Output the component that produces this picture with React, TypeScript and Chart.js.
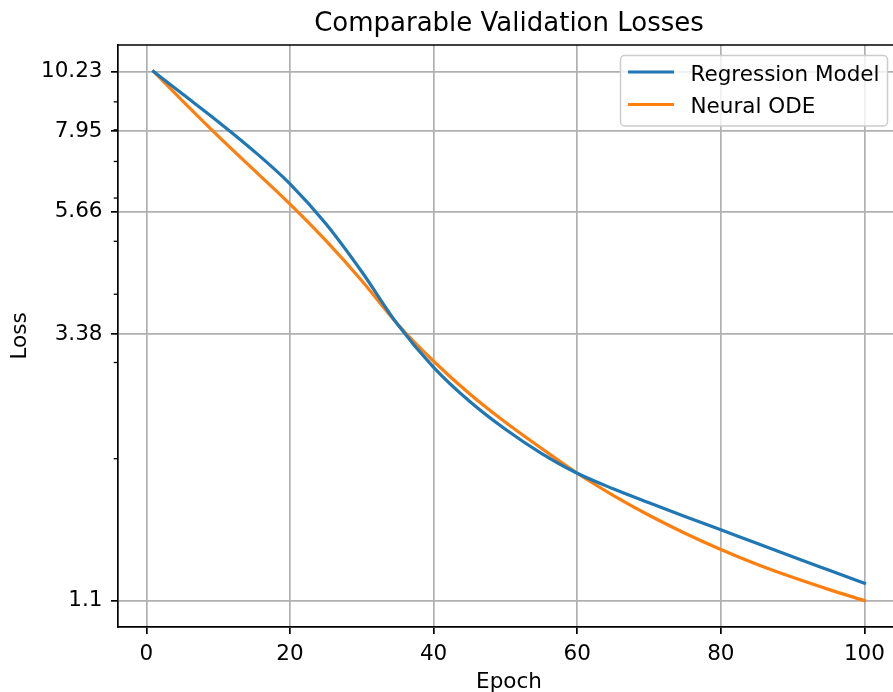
import React, { useEffect, useRef } from 'react';
import { Chart, registerables } from 'chart.js';

Chart.register(...registerables);

const FONT = "'DejaVu Sans', 'Liberation Sans', sans-serif";

const epochs = [1, 5, 10, 15, 20, 25, 30, 35, 40, 45, 50, 55, 60, 65, 70, 75, 80, 85, 90, 95, 100];
const regressionLoss = [10.23, 9.31, 8.28, 7.31, 6.37, 5.383, 4.397, 3.52, 2.94, 2.548, 2.264, 2.046, 1.881, 1.762, 1.661, 1.568, 1.482, 1.4, 1.323, 1.251, 1.183];
const neuralOdeLoss = [10.23, 9.045, 7.788, 6.748, 5.847, 5.013, 4.235, 3.525, 3.016, 2.63, 2.332, 2.09, 1.881, 1.714, 1.576, 1.461, 1.364, 1.282, 1.213, 1.153, 1.1];
const seriesLabels = ['Regression Model', 'Neural ODE'];
const seriesColors = ['#1f77b4', '#ff7f0e'];
const yTickValues = [1.1, 3.38, 5.66, 7.95, 10.23];
const yMinorTickValues = [2, 3, 4, 5, 6, 7, 8, 9];
const xTickValues = [0, 20, 40, 60, 80, 100];

const framePlugin = {
  id: 'mplFrame',
  afterDatasetsDraw(chart: any) {
    const { ctx, chartArea } = chart;
    const y = chart.scales.y;
    ctx.save();
    ctx.strokeStyle = '#000';
    ctx.lineWidth = 1.3;
    yMinorTickValues.forEach((v) => {
      const py = y.getPixelForValue(v);
      if (py < chartArea.top || py > chartArea.bottom) return;
      ctx.beginPath();
      ctx.moveTo(chartArea.left - 4.3, py);
      ctx.lineTo(chartArea.left, py);
      ctx.stroke();
    });
    ctx.lineWidth = 1.7;
    ctx.beginPath();
    ctx.moveTo(chartArea.left, chartArea.top);
    ctx.lineTo(chartArea.right, chartArea.top);
    ctx.lineTo(chartArea.right, chartArea.bottom);
    ctx.stroke();
    ctx.restore();
  },
};

const legendPlugin = {
  id: 'mplLegend',
  afterDraw(chart: any) {
    const { ctx, chartArea } = chart;
    const ds = chart.data.datasets;
    const fontPx = 21.5;
    ctx.save();
    ctx.font = `${fontPx}px ${FONT}`;
    const textW = Math.max(...ds.map((d: any) => ctx.measureText(d.label).width));
    const padL = 7.5, handleLen = 46, textPad = 16.5, padR = 8;
    const right = chartArea.right - 12.5;
    const top = chartArea.top + 10.5;
    const rowH = 32.5;
    const width = padL + handleLen + textPad + textW + padR;
    const height = 70.5;
    const left = right - width;
    const r = 4;
    ctx.beginPath();
    ctx.moveTo(left + r, top);
    ctx.lineTo(right - r, top);
    ctx.arcTo(right, top, right, top + r, r);
    ctx.lineTo(right, top + height - r);
    ctx.arcTo(right, top + height, right - r, top + height, r);
    ctx.lineTo(left + r, top + height);
    ctx.arcTo(left, top + height, left, top + height - r, r);
    ctx.lineTo(left, top + r);
    ctx.arcTo(left, top, left + r, top, r);
    ctx.closePath();
    ctx.fillStyle = 'rgba(255,255,255,0.8)';
    ctx.fill();
    ctx.strokeStyle = '#cccccc';
    ctx.lineWidth = 1.5;
    ctx.stroke();
    ds.forEach((d: any, i: number) => {
      const y = top + 16.5 + i * rowH;
      ctx.beginPath();
      ctx.strokeStyle = d.borderColor;
      ctx.lineWidth = d.borderWidth;
      ctx.lineCap = 'butt';
      ctx.moveTo(left + padL, y);
      ctx.lineTo(left + padL + handleLen, y);
      ctx.stroke();
      ctx.fillStyle = '#000';
      ctx.textBaseline = 'alphabetic';
      ctx.textAlign = 'left';
      ctx.fillText(d.label, left + padL + handleLen + textPad, y + 8.5);
    });
    ctx.restore();
  },
};

export default function App() {
  const ref = useRef<HTMLCanvasElement>(null);

  useEffect(() => {
    if (!ref.current) return;
    Chart.defaults.font.family = FONT;
    Chart.defaults.color = '#000';
    const series = [regressionLoss, neuralOdeLoss];
    const chart = new Chart(ref.current, {
      type: 'line',
      data: {
        datasets: series.map((vals, i) => ({
          label: seriesLabels[i],
          data: epochs.map((e, j) => ({ x: e, y: vals[j] })),
          borderColor: seriesColors[i],
          backgroundColor: seriesColors[i],
          borderWidth: 3.2,
          pointRadius: 0,
          cubicInterpolationMode: 'monotone',
          borderCapStyle: 'square',
          borderJoinStyle: 'round',
          fill: false,
        })),
      },
      options: {
        responsive: false,
        animation: false,
        devicePixelRatio: 1,
        layout: { padding: 0 },
        plugins: {
          legend: { display: false },
          tooltip: { enabled: false },
          title: {
            display: true,
            fullSize: false,
            text: 'Comparable Validation Losses',
            color: '#000',
            font: { family: FONT, size: 26, weight: 'normal', lineHeight: '30px' },
            padding: { top: 9, bottom: 6 },
          },
        },
        scales: {
          x: {
            type: 'linear',
            min: -3.95,
            max: 104.95,
            afterBuildTicks: (s: any) => {
              s.ticks = xTickValues.map((v) => ({ value: v }));
            },
            afterFit: (s: any) => {
              s.height = 65;
            },
            grid: { color: '#b0b0b0', lineWidth: 1.7, tickLength: 7, tickColor: '#000', tickWidth: 1.7 },
            border: { color: '#000', width: 1.7 },
            ticks: { color: '#000', font: { family: FONT, size: 21.5 }, padding: 7.5, maxRotation: 0, autoSkip: false },
            title: {
              display: true,
              text: 'Epoch',
              color: '#000',
              font: { family: FONT, size: 21.5, lineHeight: '20px' },
              padding: { top: 0, bottom: 0 },
            },
          },
          y: {
            type: 'logarithmic',
            min: 0.98394,
            max: 11.437,
            afterBuildTicks: (s: any) => {
              s.ticks = yTickValues.map((v) => ({ value: v }));
            },
            afterFit: (s: any) => {
              s.width = 118;
            },
            grid: { color: '#b0b0b0', lineWidth: 1.7, tickLength: 7, tickColor: '#000', tickWidth: 1.7 },
            border: { color: '#000', width: 1.7 },
            ticks: {
              color: '#000',
              font: { family: FONT, size: 21.5 },
              padding: 8.5,
              autoSkip: false,
              callback: (v: any) => String(v),
            },
            title: {
              display: true,
              text: 'Loss',
              color: '#000',
              font: { family: FONT, size: 21.5, lineHeight: 1.2 },
              padding: { top: 7.5, bottom: 0 },
            },
          },
        },
      } as any,
      plugins: [framePlugin, legendPlugin],
    } as any);
    return () => chart.destroy();
  }, []);

  return (
    <div
      style={{
        position: 'fixed',
        left: 0,
        top: 0,
        width: 893,
        height: 692,
        overflow: 'hidden',
        background: '#fff',
      }}
    >
      <canvas ref={ref} width={900} height={692} style={{ display: 'block', width: 900, height: 692 }} />
    </div>
  );
}
